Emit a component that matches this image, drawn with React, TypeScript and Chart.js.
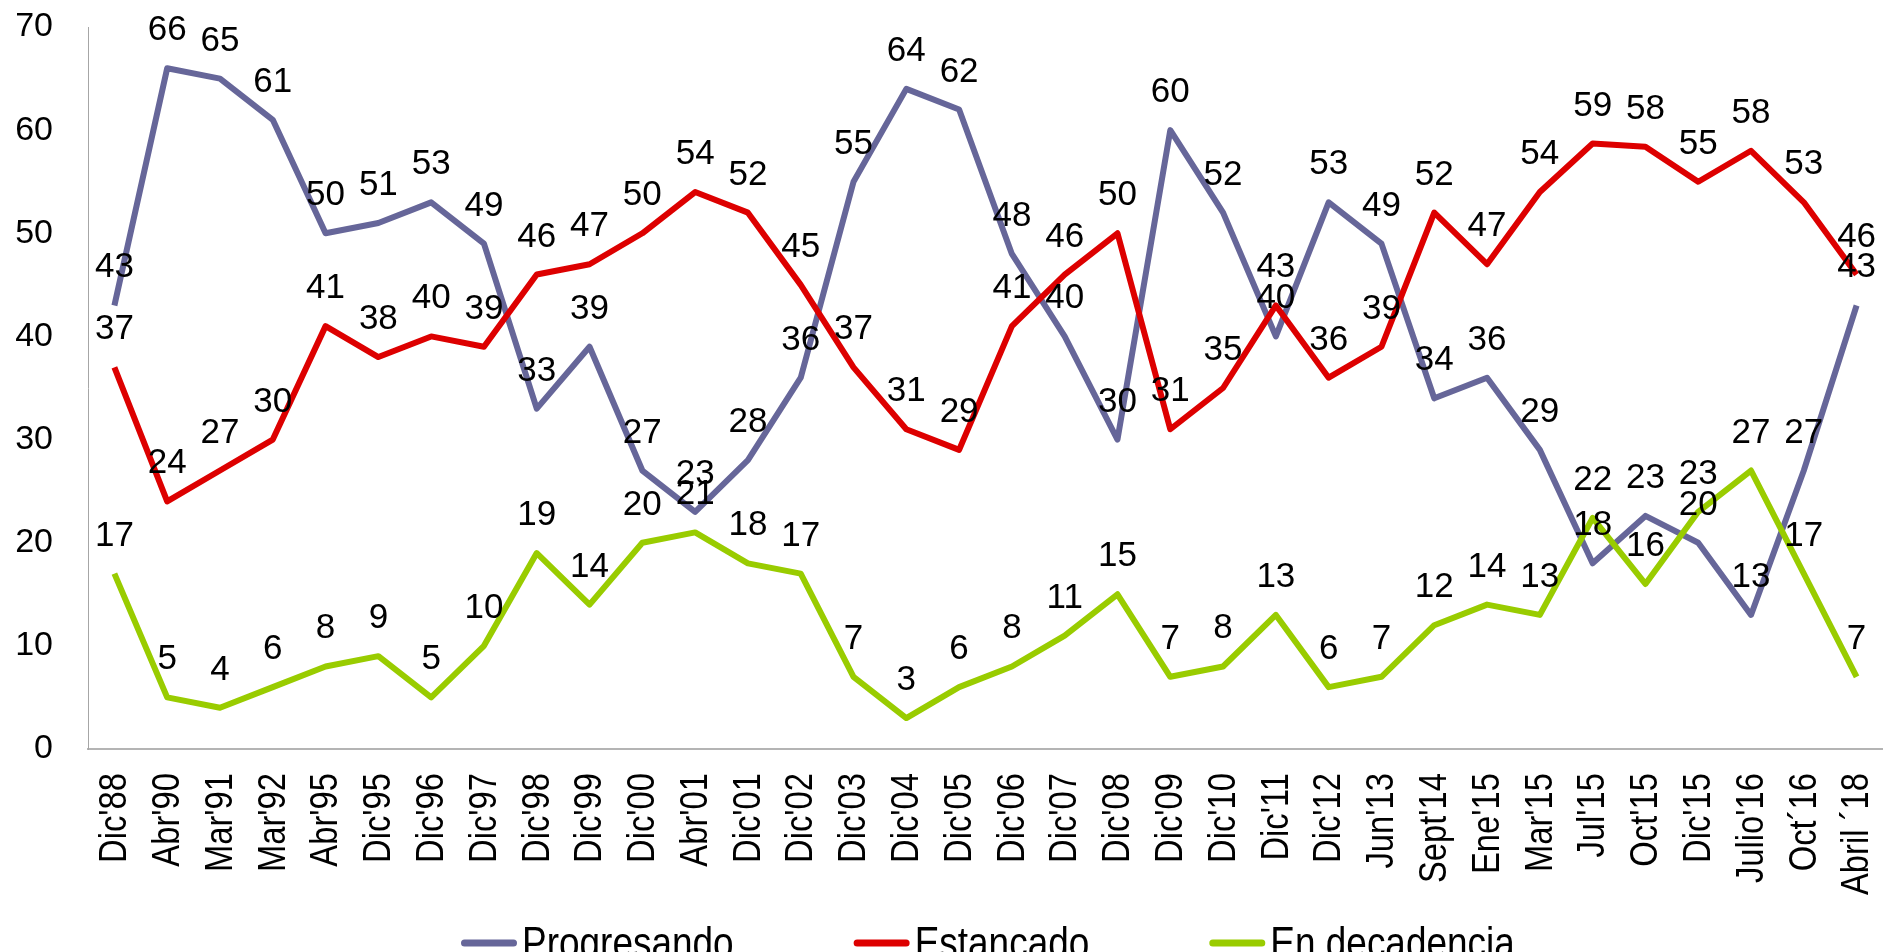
import React, { useEffect, useRef } from "react";
import { Chart, registerables } from "chart.js";

Chart.register(...registerables);

const categories = [
  "Dic'88", "Abr'90", "Mar'91", "Mar'92", "Abr'95", "Dic'95", "Dic'96", "Dic'97",
  "Dic'98", "Dic'99", "Dic'00", "Abr'01", "Dic'01", "Dic'02", "Dic'03", "Dic'04",
  "Dic'05", "Dic'06", "Dic'07", "Dic'08", "Dic'09", "Dic'10", "Dic'11", "Dic'12",
  "Jun'13", "Sept'14", "Ene'15", "Mar'15", "Jul'15", "Oct'15", "Dic'15", "Julio'16",
  "Oct´16", "Abril ´18",
];

const progresando = [
  43, 66, 65, 61, 50, 51, 53, 49, 33, 39, 27, 23, 28, 36, 55, 64, 62, 48, 40, 30,
  60, 52, 40, 53, 49, 34, 36, 29, 18, 22.6, 20, 13, 27, 43,
];

const estancado = [
  37, 24, 27, 30, 41, 38, 40, 39, 46, 47, 50, 54, 52, 45, 37, 31, 29, 41, 46, 50,
  31, 35, 43, 36, 39, 52, 47, 54, 58.7, 58.4, 55, 58, 53, 46,
];

const enDecadencia = [
  17, 5, 4, 6, 8, 9, 5, 10, 19, 14, 20, 21, 18, 17, 7, 3, 6, 8, 11, 15,
  7, 8, 13, 6, 7, 12, 14, 13, 22.4, 16, 23, 27, 17, 7,
];

const seriesNames = ["Progresando", "Estancado", "En decadencia"];
const seriesColors = ["#666699", "#DD0000", "#99CC00"];
const yMin = 0;
const yMax = 70;
const yStep = 10;

const FAMILY = "'Liberation Sans', Arial, sans-serif";

const valueLabels = {
  id: "valueLabels",
  afterDatasetsDraw(chart: any) {
    const ctx = chart.ctx;
    ctx.save();
    ctx.font = `35px ${FAMILY}`;
    ctx.fillStyle = "#000";
    ctx.textAlign = "center";
    ctx.textBaseline = "alphabetic";
    chart.data.datasets.forEach((ds: any, di: number) => {
      const meta = chart.getDatasetMeta(di);
      meta.data.forEach((pt: any, i: number) => {
        const v = ds.data[i];
        ctx.fillText(String(Math.round(v)), pt.x, pt.y - 28);
      });
    });
    ctx.restore();
  },
};

// condensed, rotated category labels positioned by the x scale
const xLabels = {
  id: "xLabels",
  afterDraw(chart: any) {
    const ctx = chart.ctx;
    const xs = chart.scales.x;
    ctx.save();
    ctx.font = `39px ${FAMILY}`;
    ctx.fillStyle = "#000";
    ctx.textAlign = "right";
    ctx.textBaseline = "middle";
    chart.data.labels.forEach((lab: string, i: number) => {
      const px = xs.getPixelForTick(i);
      ctx.save();
      ctx.translate(px + 1, xs.top + 24);
      ctx.rotate(-Math.PI / 2);
      ctx.scale(0.84, 1);
      ctx.fillText(lab, 0, 0);
      ctx.restore();
    });
    ctx.restore();
  },
};

const bottomLegend = {
  id: "bottomLegend",
  afterDraw(chart: any) {
    const ctx = chart.ctx;
    ctx.save();
    ctx.font = `44px ${FAMILY}`;
    const sx = 0.84;
    let x = 461;
    const y = 943;
    chart.data.datasets.forEach((ds: any) => {
      ctx.strokeStyle = ds.borderColor;
      ctx.lineWidth = 7;
      ctx.lineCap = "round";
      ctx.beginPath();
      ctx.moveTo(x + 3.5, y);
      ctx.lineTo(x + 52.5, y);
      ctx.stroke();
      const tx = x + 61;
      ctx.save();
      ctx.translate(tx, 958);
      ctx.scale(sx, 1);
      ctx.fillStyle = "#000";
      ctx.textAlign = "left";
      ctx.textBaseline = "alphabetic";
      ctx.fillText(ds.label, 0, 0);
      ctx.restore();
      x = tx + ctx.measureText(ds.label).width * sx + 120;
    });
    // logo fragment cut by the bottom edge
    ctx.font = `bold 80px ${FAMILY}`;
    ctx.fillStyle = "#111";
    ctx.textAlign = "left";
    ctx.textBaseline = "alphabetic";
    ctx.fillText("M", 1328, 1008);
    ctx.fillText("O", 1418, 1008);
    ctx.fillText("R", 1520, 1008);
    ctx.restore();
  },
};

export default function App() {
  const ref = useRef<HTMLCanvasElement | null>(null);

  useEffect(() => {
    document.body.style.margin = "0";
    if (!ref.current) return;
    const mk = (i: number, data: number[], order: number) => ({
      label: seriesNames[i],
      data,
      borderColor: seriesColors[i],
      backgroundColor: seriesColors[i],
      borderWidth: 6,
      pointRadius: 0,
      tension: 0,
      borderJoinStyle: "round" as const,
      order,
    });
    const chart = new Chart(ref.current, {
      type: "line",
      data: {
        labels: categories,
        datasets: [mk(0, progresando, 2), mk(1, estancado, 1), mk(2, enDecadencia, 0)],
      },
      options: {
        responsive: false,
        animation: false,
        layout: { padding: { top: 27, left: 0, right: 0, bottom: 0 } },
        plugins: {
          legend: { display: false },
          tooltip: { enabled: false },
        },
        scales: {
          x: {
            type: "category",
            offset: true,
            grid: { display: false },
            border: { display: true, color: "#B4B4B4", width: 2 },
            ticks: { display: false, autoSkip: false },
            afterFit(scale: any) {
              scale.height = 203;
              scale.paddingLeft = 0;
              scale.paddingRight = 0;
            },
          },
          y: {
            min: yMin,
            max: yMax,
            grid: { display: false },
            border: { display: true, color: "#A6A6A6", width: 1 },
            ticks: {
              stepSize: yStep,
              padding: 27,
              color: "#000",
              font: { size: 34, family: FAMILY },
            },
            afterFit(scale: any) {
              scale.width = 88;
              scale.paddingTop = 0;
              scale.paddingBottom = 0;
            },
          },
        },
      },
      plugins: [valueLabels, xLabels, bottomLegend],
    });
    return () => chart.destroy();
  }, []);

  return (
    <div style={{ width: 1883, height: 952, overflow: "hidden", background: "#fff" }}>
      <canvas ref={ref} width={1883} height={952} style={{ display: "block" }} />
    </div>
  );
}
